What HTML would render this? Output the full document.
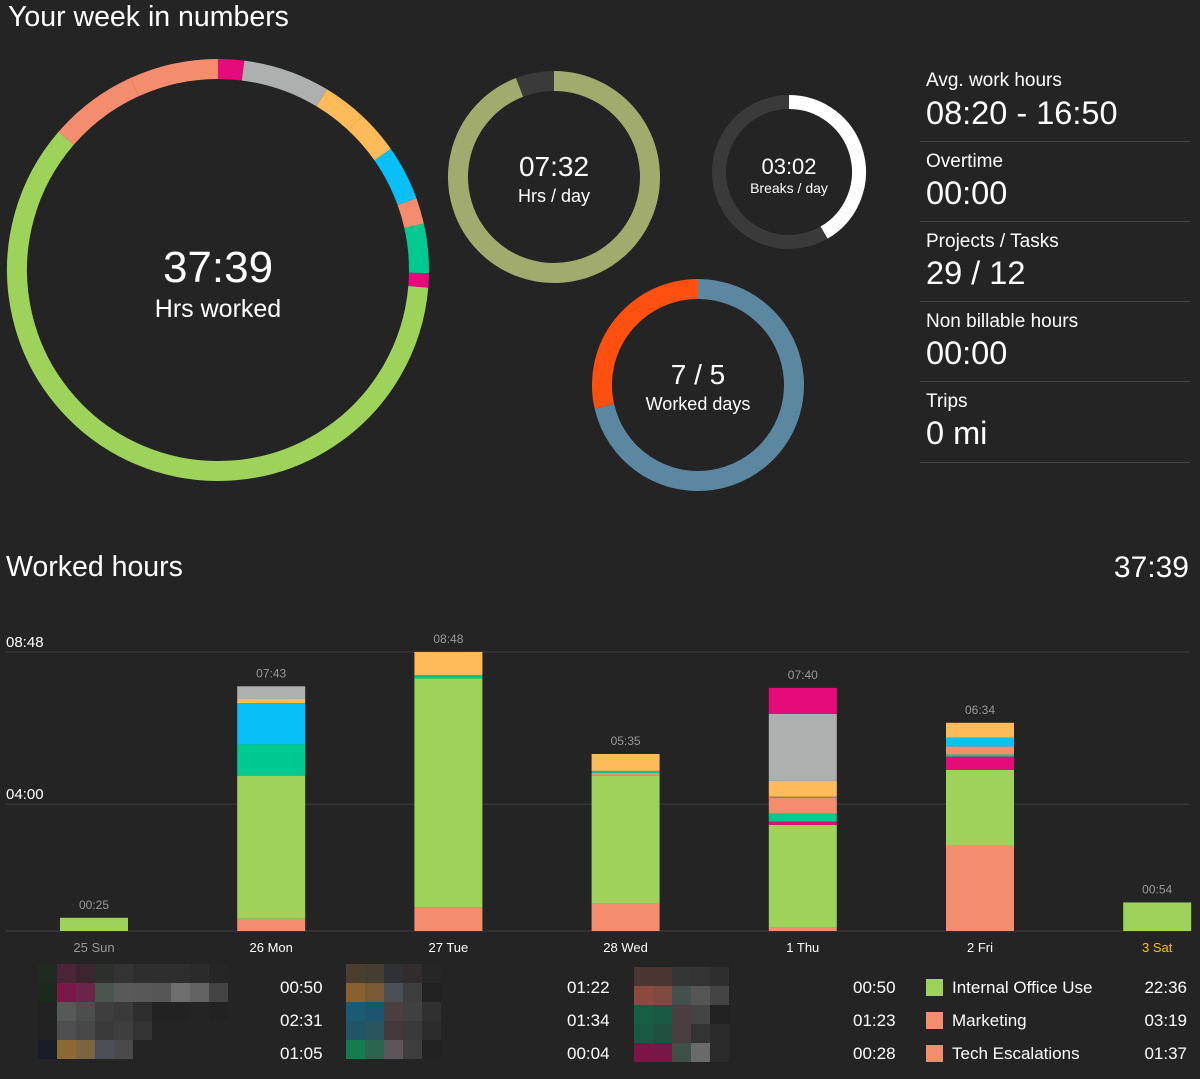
<!DOCTYPE html>
<html><head><meta charset="utf-8">
<style>
html,body{margin:0;padding:0;background:#242424;}
body{width:1200px;height:1079px;overflow:hidden;position:relative;font-family:"Liberation Sans",sans-serif;color:#fff;}
.abs{position:absolute;}
.stat-label{position:absolute;left:926px;font-size:19px;color:#fff;}
.stat-val{position:absolute;left:926px;font-size:32.5px;color:#fff;}
.sep{position:absolute;left:920px;width:270px;height:1px;background:#444;}
.leg-t{position:absolute;font-size:17px;color:#fff;}
.px{position:absolute;}
</style></head>
<body>
<div class="abs" style="left:8px;top:1px;font-size:28.5px;">Your week in numbers</div>

<svg class="abs" style="left:0;top:0" width="1200" height="520">
  <g id="donuts"></g>
  <text x="218" y="282" text-anchor="middle" font-size="44" fill="#fff">37:39</text>
  <text x="218" y="317" text-anchor="middle" font-size="25" fill="#fff">Hrs worked</text>
  <text x="554" y="176" text-anchor="middle" font-size="28" fill="#fff">07:32</text>
  <text x="554" y="202" text-anchor="middle" font-size="18" fill="#fff">Hrs / day</text>
  <text x="789" y="174" text-anchor="middle" font-size="22" fill="#fff">03:02</text>
  <text x="789" y="193" text-anchor="middle" font-size="14" fill="#fff">Breaks / day</text>
  <text x="698" y="384" text-anchor="middle" font-size="28" fill="#fff">7 / 5</text>
  <text x="698" y="410" text-anchor="middle" font-size="18" fill="#fff">Worked days</text>
</svg>

<div class="stat-label" style="top:70px">Avg. work hours</div>
<div class="stat-val" style="top:95px">08:20 - 16:50</div>
<div class="sep" style="top:141px"></div>
<div class="stat-label" style="top:151px">Overtime</div>
<div class="stat-val" style="top:175px">00:00</div>
<div class="sep" style="top:221px"></div>
<div class="stat-label" style="top:231px">Projects / Tasks</div>
<div class="stat-val" style="top:255px">29 / 12</div>
<div class="sep" style="top:301px"></div>
<div class="stat-label" style="top:311px">Non billable hours</div>
<div class="stat-val" style="top:335px">00:00</div>
<div class="sep" style="top:381px"></div>
<div class="stat-label" style="top:391px">Trips</div>
<div class="stat-val" style="top:415px">0 mi</div>
<div class="sep" style="top:462px"></div>

<div class="abs" style="left:6px;top:551px;font-size:28.5px;">Worked hours</div>
<div class="abs" style="right:11px;top:551px;font-size:30px;">37:39</div>

<svg class="abs" style="left:0;top:620px" width="1200" height="340">
  <g id="bars"></g>
</svg>

<div id="blur"></div>

<div class="leg-t" style="left:280px;top:978px">00:50</div>
<div class="leg-t" style="left:280px;top:1011px">02:31</div>
<div class="leg-t" style="left:280px;top:1044px">01:05</div>
<div class="leg-t" style="left:567px;top:978px">01:22</div>
<div class="leg-t" style="left:567px;top:1011px">01:34</div>
<div class="leg-t" style="left:567px;top:1044px">00:04</div>
<div class="leg-t" style="left:853px;top:978px">00:50</div>
<div class="leg-t" style="left:853px;top:1011px">01:23</div>
<div class="leg-t" style="left:853px;top:1044px">00:28</div>

<div class="abs" style="left:926px;top:979px;width:17px;height:17px;background:#9dd35a"></div>
<div class="leg-t" style="left:952px;top:978px">Internal Office Use</div>
<div class="leg-t" style="right:13px;top:978px">22:36</div>
<div class="abs" style="left:926px;top:1012px;width:17px;height:17px;background:#f48c6e"></div>
<div class="leg-t" style="left:952px;top:1011px">Marketing</div>
<div class="leg-t" style="right:13px;top:1011px">03:19</div>
<div class="abs" style="left:926px;top:1045px;width:17px;height:17px;background:#f48c6e"></div>
<div class="leg-t" style="left:952px;top:1044px">Tech Escalations</div>
<div class="leg-t" style="right:13px;top:1044px">01:37</div>

<script>
const C={g:"#9dd35a",s:"#f48c6e",t:"#00c98f",b:"#06c0f7",o:"#ffba5a",y:"#adb0ae",p:"#e60b7a"};
const donutMinutes=[45,150,75,75,95,45,85,25,1356,154,154];
const donutColors=["p","y","o","o","b","s","t","p","g","s","s"];
const days=["25 Sun","26 Mon","27 Tue","28 Wed","1 Thu","2 Fri","3 Sat"];
const dayTotals=["00:25","07:43","08:48","05:35","07:40","06:34","00:54"];
const segMinutes=[
 [25],
 [23,271,59,78,8,24],
 [44,434,6,44],
 [53,241,5,4,32],
 [6,195,6,15,30,2,30,127,49],
 [161,144,25,4,15,17,28],
 [54]];
const segColors=[
 ["g"],["s","g","t","b","o","y"],["s","g","t","o"],["s","g","s","t","o"],
 ["s","g","p","t","s","t","o","y","p"],["s","g","p","t","s","b","o"],["g"]];
const yTicks=[240,528];
const yTickLabels=["04:00","08:48"];
const hrsPerDay=[452,28];
const breaksPerDay=[150,210];
const workedDays=[5,2];

const NS="http://www.w3.org/2000/svg";
function mk(tag,attrs,parent){const e=document.createElementNS(NS,tag);for(const k in attrs)e.setAttribute(k,attrs[k]);parent.appendChild(e);return e;}
function arc(cx,cy,r,a0,a1){const p=a=>[cx+r*Math.sin(a*Math.PI/180),cy-r*Math.cos(a*Math.PI/180)];const [x0,y0]=p(a0),[x1,y1]=p(a1);return `M${x0} ${y0}A${r} ${r} 0 ${a1-a0>180?1:0} 1 ${x1} ${y1}`;}
const dg=document.getElementById("donuts");
function ring(cx,cy,r,w,vals,cols,name){let tot=vals.reduce((a,b)=>a+b,0),a=0;vals.forEach((v,i)=>{const a1=a+v/tot*360;const e=mk("path",{d:arc(cx,cy,r,a,Math.min(a1,359.99)),stroke:cols[i],"stroke-width":w,fill:"none"},dg);


a=a1;});}
ring(218,270,201,20,donutMinutes,donutColors.map(c=>C[c]),"hours-donut");
ring(554,177,96,20,hrsPerDay,["#a0ab6d","#3a3a3a"],"hrs-per-day");
ring(789,172,70,14,breaksPerDay,["#ffffff","#3a3a3a"],"breaks");
(function(){
 const wd=workedDays[0]/(workedDays[0]+workedDays[1])*360;
 const e1=mk("path",{d:arc(698,385,96,0,wd),stroke:"#5b87a0","stroke-width":20,fill:"none"},dg);
 
 
 const e2=mk("path",{d:arc(698,385,96,wd,359.99),stroke:"#ff5010","stroke-width":20,fill:"none"},dg);
 
 
})();

const bg=document.getElementById("bars");
const base=311, k=0.5285, x0=60, step=177.2, bw=68;
const y=m=>base-m*k;
yTicks.forEach((t,i)=>{
 const l=mk("line",{x1:6,x2:1190,y1:y(t),y2:y(t),stroke:"#3d3d3d","stroke-width":1},bg);
 
 
 const tx=mk("text",{x:6,y:y(t)-5,"font-size":15,fill:"#fff"},bg);tx.textContent=yTickLabels[i];
 
 
});
const bl=mk("line",{x1:6,x2:1190,y1:base,y2:base,stroke:"#3d3d3d","stroke-width":1},bg);


days.forEach((d,i)=>{
 const x=x0+i*step;let acc=0;
 segMinutes[i].forEach((m,j)=>{
  const r=mk("rect",{x:x,y:y(acc+m),width:bw,height:m*k,fill:C[segColors[i][j]]},bg);
  
  
  acc+=m;});
 const tl=mk("text",{x:x+bw/2,y:y(acc)-9,"text-anchor":"middle","font-size":12,fill:"#999"},bg);tl.textContent=dayTotals[i];
 
 
 const dl=mk("text",{x:x+bw/2,y:base+21,"text-anchor":"middle","font-size":13,fill:i==0?"#999":(i==6?"#ffc000":"#fff")},bg);dl.textContent=d;
 
 
});

const blur=document.getElementById("blur");
function blocks(x,yy,cols){cols.forEach((row,ri)=>row.forEach((c,ci)=>{if(!c)return;const d=document.createElement("div");d.className="px";d.style.cssText=`left:${x+ci*19}px;top:${yy+ri*19}px;width:19px;height:19px;background:${c}`;blur.appendChild(d);}));}
blocks(38,964,[
 ["#1e2a22","#4a2535","#3d2530","#2c2f2c","#333","#2e2e2e","#2e2e2e","#2e2e2e","#2b2b2b","#262626"],
 ["#1a2a1c","#7a1848","#6a2548","#4a5550","#595959","#585858","#555","#6e6e6e","#636363","#444"],
 ["#222","#555a58","#4a4e4c","#3e3e3e","#3a3a3a","#2e2e2e","#222","#222","#242424","#222"],
 ["#222","#4e4e50","#484848","#3a3a3a","#3e3e3e","#333","#242424","#242424","#242424","#242424"],
 ["#1a1d28","#8a6a30","#7a6540","#4a4e55","#4a4a4a","#242424","#242424","#242424","#242424","#242424"]]);
blocks(346,964,[
 ["#4a3f2e","#453d2f","#2f3234","#302d2c","#262626"],
 ["#8a6030","#7a5a35","#4a4e55","#3e3e3e","#222"],
 ["#1a5a75","#1d5570","#4a3e3e","#404040","#303030"],
 ["#1f5565","#285560","#453838","#3a3a3a","#2c2c2c"],
 ["#157a50","#2a6550","#5e555a","#3e3e3e","#222"]]);
blocks(634,967,[
 ["#4a3530","#4a3530","#353535","#333","#2e2e2e"],
 ["#8a4a40","#804a40","#445050","#555","#444"],
 ["#156045","#1a5a45","#4a3e40","#444","#222"],
 ["#1a5a45","#205040","#4a3e40","#333","#2a2a2a"],
 ["#7a1545","#751848","#3e5048","#6a6a6a","#2a2a2a"]]);
</script>
</body></html>
